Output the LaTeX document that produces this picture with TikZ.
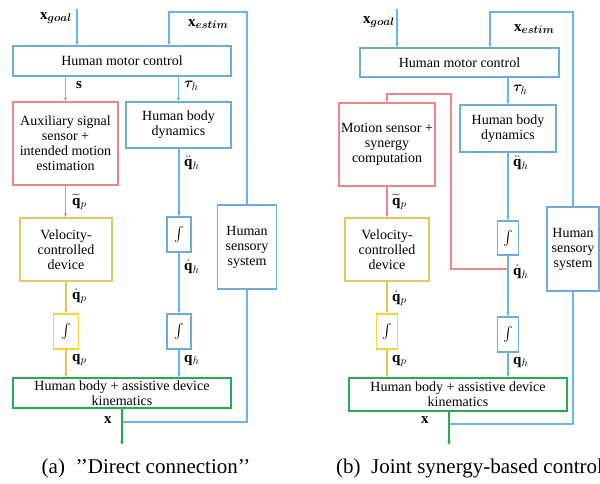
\documentclass[tikz,border=0pt]{standalone}
\usepackage{amsmath}
\usepackage{bm}
\usepackage{fontspec}
\setmainfont{Liberation Serif}
\usetikzlibrary{arrows.meta}
\definecolor{bline}{RGB}{105,180,235}
\definecolor{bbox}{RGB}{110,170,220}
\definecolor{rline}{RGB}{235,135,135}
\definecolor{ybox}{RGB}{228,198,100}
\definecolor{yint}{RGB}{250,210,60}
\definecolor{yline}{RGB}{225,195,95}
\definecolor{gline}{RGB}{40,170,80}
\tikzset{
  blk/.style={draw, line width=1.6pt, fill=white, inner sep=0pt, align=center,
    font=\fontsize{14}{15}\selectfont},
  bluebox/.style={blk, draw=bbox},
  redbox/.style={blk, draw=rline},
  velbox/.style={blk, draw=ybox},
  intbox/.style={blk, draw=yint},
  grnbox/.style={blk, draw=gline},
  con/.style={line width=1.3pt, -{Stealth[length=4pt,width=3.5pt]}},
  plain/.style={line width=1.3pt},
  lbl/.style={inner sep=0pt, anchor=west, font=\fontsize{15}{16}\selectfont},
  captext/.style={inner sep=0pt, font=\fontsize{21}{23}\selectfont}
}
\begin{document}
\begin{tikzpicture}[x=1pt,y=-1pt]
\useasboundingbox[fill=white] (0,0) rectangle (600,483);
\clip (0,0) rectangle (600,483);
% ---------------- panel (a) ----------------
\node[bluebox, minimum width=218pt, minimum height=30pt] (hmc_a) at (122,61) {Human motor control};
\node[redbox, minimum width=105pt, minimum height=83pt] (aux_a) at (65.5,143.5) {Auxiliary signal\\sensor +\\intended motion\\estimation};
\node[bluebox, minimum width=105pt, minimum height=46pt] (hbd_a) at (178.5,125) {Human body\\dynamics};
\node[velbox, minimum width=92pt, minimum height=63pt] (vel_a) at (66,249.5) {Velocity-\\controlled\\device};
\node[intbox, minimum width=25pt, minimum height=35pt] (intp_a) at (66,331.5) {$\int$};
\node[bluebox, minimum width=24pt, minimum height=35pt] (inth1_a) at (179,234.5) {$\int$};
\node[bluebox, minimum width=24pt, minimum height=35pt] (inth2_a) at (179,331.5) {$\int$};
\node[bluebox, minimum width=59pt, minimum height=84pt] (hss_a) at (247,247) {Human\\sensory\\system};
\node[grnbox, minimum width=218pt, minimum height=30pt] (kin_a) at (122,393) {Human body + assistive device\\kinematics};
\coordinate (goal_a) at (77,9);
\coordinate (estim_a) at (169,12);
\coordinate (xout_a) at (122,422);
\coordinate (xend_a) at (122,445);
\draw[con, bline] (goal_a) -- (goal_a |- hmc_a.north);
\draw[con, bline] (hss_a.north) |- (estim_a) -- (estim_a |- hmc_a.north);
\draw[con, rline] (hmc_a.south -| aux_a.north) -- (aux_a.north);
\draw[con, bline] (hmc_a.south -| hbd_a.north) -- (hbd_a.north);
\draw[con, rline] (aux_a.south) -- (aux_a.south |- vel_a.north);
\draw[con, yline] (vel_a.south) -- (intp_a.north);
\draw[con, yline] (intp_a.south) -- (intp_a.south |- kin_a.north);
\draw[con, bline] (hbd_a.south -| inth1_a.north) -- (inth1_a.north);
\draw[con, bline] (inth1_a.south) -- (inth2_a.north);
\draw[con, bline] (inth2_a.south) -- (inth2_a.south |- kin_a.north);
\draw[plain, bline] (hss_a.south) |- (xout_a);
\draw[con, gline] (kin_a.south) -- (xend_a);
\node[lbl] (lgoal_a) at (40,18) {$\mathbf{x}_{\boldsymbol{goal}}$};
\node[lbl] (lestim_a) at (188,24) {$\mathbf{x}_{\boldsymbol{estim}}$};
\node[lbl] (ls_a) at (76,85) {$\mathbf{s}$};
\node[lbl] (ltau_a) at (184,86) {$\boldsymbol{\tau}_h$};
\node[lbl] (lqdd_a) at (184,163) {$\ddot{\mathbf{q}}_h$};
\node[lbl] (lqt_a) at (72,202) {$\widetilde{\mathbf{q}}_p$};
\node[lbl] (lqdh_a) at (184,267) {$\dot{\mathbf{q}}_h$};
\node[lbl] (lqdp_a) at (72,296) {$\dot{\mathbf{q}}_p$};
\node[lbl] (lqh_a) at (184,360) {$\mathbf{q}_h$};
\node[lbl] (lqp_a) at (72,360) {$\mathbf{q}_p$};
\node[lbl] (lx_a) at (104,420) {$\mathbf{x}$};
\node[captext] (cap_a) at (146,468) {(a)\ \ ’’Direct connection’’};
% ---------------- panel (b) ----------------
\node[bluebox, minimum width=199pt, minimum height=29pt] (hmc_b) at (459.5,62.5) {Human motor control};
\node[redbox, minimum width=96pt, minimum height=83pt] (ms_b) at (387,144.5) {Motion sensor +\\synergy\\computation};
\node[bluebox, minimum width=96pt, minimum height=47pt] (hbd_b) at (508,128.5) {Human body\\dynamics};
\node[velbox, minimum width=84pt, minimum height=63pt] (vel_b) at (387,249.5) {Velocity-\\controlled\\device};
\node[intbox, minimum width=21pt, minimum height=35pt] (intp_b) at (387,331.5) {$\int$};
\node[bluebox, minimum width=21pt, minimum height=34pt] (inth1_b) at (508,238) {$\int$};
\node[bluebox, minimum width=21pt, minimum height=35pt] (inth2_b) at (508,334.5) {$\int$};
\node[bluebox, minimum width=52pt, minimum height=84pt] (hss_b) at (573,249) {Human\\sensory\\system};
\node[grnbox, minimum width=218pt, minimum height=33pt] (kin_b) at (458,394.5) {Human body + assistive device\\kinematics};
\coordinate (goal_b) at (397,9);
\coordinate (estim_b) at (490,12);
\coordinate (tap_b) at (508,269);
\coordinate (loop_b) at (451,94);
\coordinate (xout_b) at (449,424);
\coordinate (xend_b) at (449,445);
\draw[con, bline] (goal_b) -- (goal_b |- hmc_b.north);
\draw[con, bline] (hss_b.north) |- (estim_b) -- (estim_b |- hmc_b.north);
\draw[con, bline] (hmc_b.south -| hbd_b.north) -- (hbd_b.north);
\draw[con, bline] (hbd_b.south) -- (inth1_b.north);
\draw[con, bline] (inth1_b.south) -- (inth2_b.north);
\draw[con, bline] (inth2_b.south) -- (inth2_b.south |- kin_b.north);
\draw[con, rline] (tap_b) -| (loop_b) -- (loop_b -| ms_b.north) -- (ms_b.north);
\draw[con, rline] (ms_b.south) -- (vel_b.north);
\draw[con, yline] (vel_b.south) -- (intp_b.north);
\draw[con, yline] (intp_b.south) -- (intp_b.south |- kin_b.north);
\draw[plain, bline] (hss_b.south) |- (xout_b);
\draw[con, gline] (kin_b.south -| xout_b) -- (xend_b);
\node[lbl] (lgoal_b) at (363,22) {$\mathbf{x}_{\boldsymbol{goal}}$};
\node[lbl] (lestim_b) at (514,29) {$\mathbf{x}_{\boldsymbol{estim}}$};
\node[lbl] (ltau_b) at (513,90) {$\boldsymbol{\tau}_h$};
\node[lbl] (lqdd_b) at (513,163) {$\ddot{\mathbf{q}}_h$};
\node[lbl] (lqt_b) at (392,202) {$\widetilde{\mathbf{q}}_p$};
\node[lbl] (lqdh_b) at (513,272) {$\dot{\mathbf{q}}_h$};
\node[lbl] (lqdp_b) at (392,298) {$\dot{\mathbf{q}}_p$};
\node[lbl] (lqh_b) at (513,362) {$\mathbf{q}_h$};
\node[lbl] (lqp_b) at (392,361) {$\mathbf{q}_p$};
\node[lbl] (lx_b) at (421,420) {$\mathbf{x}$};
\node[captext, anchor=west] (cap_b) at (336,468) {(b)\ \ Joint synergy-based control};
\end{tikzpicture}
\end{document}
